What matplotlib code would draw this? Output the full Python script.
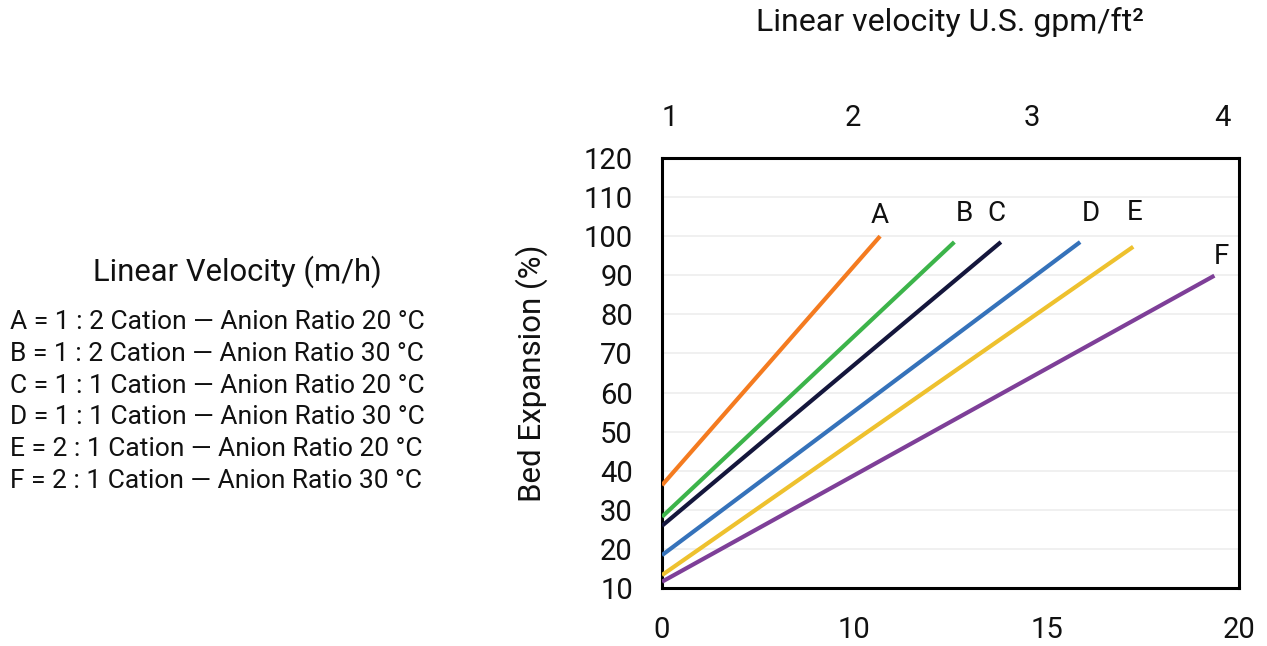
import matplotlib.pyplot as plt
import numpy as np

plt.rcParams['font.family'] = ['Roboto', 'DejaVu Sans']

# series: start/end points (x in m/h on the chart's scale, y in %)
series_names = ['A', 'B', 'C', 'D', 'E', 'F']
x_start = [5, 5, 5, 5, 5, 5]
x_end = [10.67, 12.6, 13.81, 15.87, 17.25, 19.36]
y_start = [36.3, 28.2, 25.9, 18.4, 13.3, 11.6]
y_end = [100.0, 98.5, 98.5, 98.5, 97.3, 89.9]
colors = ['#F47B20', '#3CB44A', '#14163C', '#3572BA', '#EEC12E', '#7E3F98']

bottom_ticks = [5, 10, 15, 20]
bottom_labels = ['0', '10', '15', '20']
top_ticks = [5.21, 9.96, 14.62, 19.56]
top_labels = ['1', '2', '3', '4']
y_ticks = list(range(10, 121, 10))

legend_lines = [
    'A = 1 : 2 Cation \u2014 Anion Ratio 20 \u00b0C',
    'B = 1 : 2 Cation \u2014 Anion Ratio 30 \u00b0C',
    'C = 1 : 1 Cation \u2014 Anion Ratio 20 \u00b0C',
    'D = 1 : 1 Cation \u2014 Anion Ratio 30 \u00b0C',
    'E = 2 : 1 Cation \u2014 Anion Ratio 20 \u00b0C',
    'F = 2 : 1 Cation \u2014 Anion Ratio 30 \u00b0C',
]
# label offsets in pixels from each line's end point
label_dx = [0, 10, -4, 11, 1, 7]
label_dy = [21, 29, 29, 29, 34, 19]

W, H = 1267, 646
fig = plt.figure(figsize=(W / 100, H / 100), dpi=100)
ax = fig.add_axes([662 / W, 1 - 588 / H, (1239 - 662) / W, (588 - 158) / H])

for i in range(len(series_names)):
    ax.plot([x_start[i], x_end[i]], [y_start[i], y_end[i]],
            color=colors[i], lw=3, solid_capstyle='butt', zorder=3)
    ax.annotate(series_names[i], xy=(x_end[i], y_end[i]),
                xytext=(label_dx[i], label_dy[i]), textcoords='offset pixels',
                ha='center', va='center', fontsize=20, color='#111111')

ax.set_xlim(5, 20)
ax.set_ylim(10, 120)
ax.set_xticks(bottom_ticks)
ax.set_xticklabels(bottom_labels)
ax.set_yticks(y_ticks)
ax.grid(axis='y', color='#eeeeee', lw=1.2, zorder=0)
ax.tick_params(length=0, labelsize=21, colors='#111111')
ax.tick_params(axis='x', pad=20)
ax.tick_params(axis='y', pad=21)
for sp in ax.spines.values():
    sp.set_linewidth(2.2)
    sp.set_color('black')
ax.set_ylabel('Bed Expansion (%)', fontsize=22.5, labelpad=26, color='#111111')

ax2 = ax.twiny()
ax2.set_xlim(5, 20)
ax2.set_xticks(top_ticks)
ax2.set_xticklabels(top_labels)
ax2.tick_params(length=0, labelsize=21, pad=19, colors='#111111')
for sp in ax2.spines.values():
    sp.set_visible(False)

fig.text(950 / W, 1 - 22 / H, 'Linear velocity U.S. gpm/ft\u00b2',
         ha='center', va='center', fontsize=23, color='#111111')

fig.text(237 / W, 1 - 281 / H, 'Linear Velocity (m/h)',
         ha='center', va='baseline', fontsize=22.3, color='#111111')
for k, line in enumerate(legend_lines):
    fig.text(10 / W, 1 - (329.3 + 31.7 * k) / H, line,
             ha='left', va='baseline', fontsize=19, color='#111111')

fig.savefig('out.png', dpi=100)
